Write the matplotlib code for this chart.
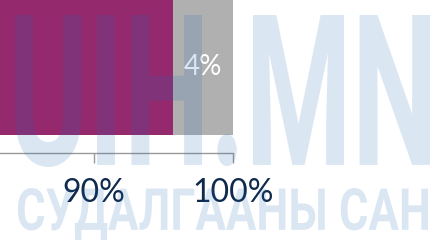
'''
stacked share bar (cropped view) with site watermark
'''
import matplotlib
matplotlib.use('Agg')
import matplotlib.pyplot as plt
from matplotlib.textpath import TextPath
from matplotlib.font_manager import FontProperties
from matplotlib.patches import PathPatch
from matplotlib.transforms import Affine2D

# data
segments = ['main', 'other']
shares = [95.7, 4.3]
seg_colors = ['#942a6d', '#b0b0b0']
show_label = [False, True]
tick_values = [90, 100]
tick_labels = ['90%', '100%']
view_range = (83.2, 114.75)

W, H = 437, 245
plt.rcParams['font.family'] = ['Lato', 'DejaVu Sans']

fig = plt.figure(figsize=(W / 100, H / 100), dpi=100)
ax = fig.add_axes([0, (H - 152.5) / H, 1, 152.5 / H])

left = 0
for name, val, col, lab in zip(segments, shares, seg_colors, show_label):
    ax.barh(0, val, left=left, height=0.8, color=col, zorder=2)
    if lab:
        ax.text(left + val / 2, 0, f'{round(val)}%', ha='center',
                va='center', color='white', fontsize=20, zorder=3)
    left += val

ax.set_xlim(*view_range)
ax.set_ylim(-0.504, 0.4)
ax.set_yticks([])
ax.set_xticks(tick_values)
ax.set_xticklabels(tick_labels)
ax.tick_params(axis='x', direction='out', length=7.5, width=1,
               color='#999999', labelsize=23, labelcolor='#0f2a4c', pad=11)
for s in ['top', 'right', 'left']:
    ax.spines[s].set_visible(False)
ax.spines['bottom'].set_color('#999999')
ax.spines['bottom'].set_linewidth(1)
ax.spines['bottom'].set_bounds(view_range[0], tick_values[-1])
ax.xaxis.set_zorder(6)


def watermark(text, box):
    '''
    draw text stretched into box (x0, y0, x1, y1) in top-down pixels
    '''
    fp = FontProperties(family='Roboto', weight='bold')
    tp = TextPath((0, 0), text, size=100, prop=fp)
    ext = tp.get_extents()
    x0, y0, x1, y1 = box
    sx = (x1 - x0) / ext.width
    sy = (y1 - y0) / ext.height
    tr = (Affine2D().translate(-ext.x0, -ext.y0).scale(sx, sy)
          .translate(x0, H - y1).scale(1 / W, 1 / H) + fig.transFigure)
    patch = PathPatch(tp, transform=tr, facecolor=(0.12, 0.4, 0.72),
                      edgecolor='none', alpha=0.16, zorder=5)
    fig.patches.append(patch)


watermark('UIH.MN', (15, 15, 430, 167))
watermark('СУДАЛГААНЫ САН', (18, 188, 428, 240))

fig.savefig('out.png', dpi=100)
